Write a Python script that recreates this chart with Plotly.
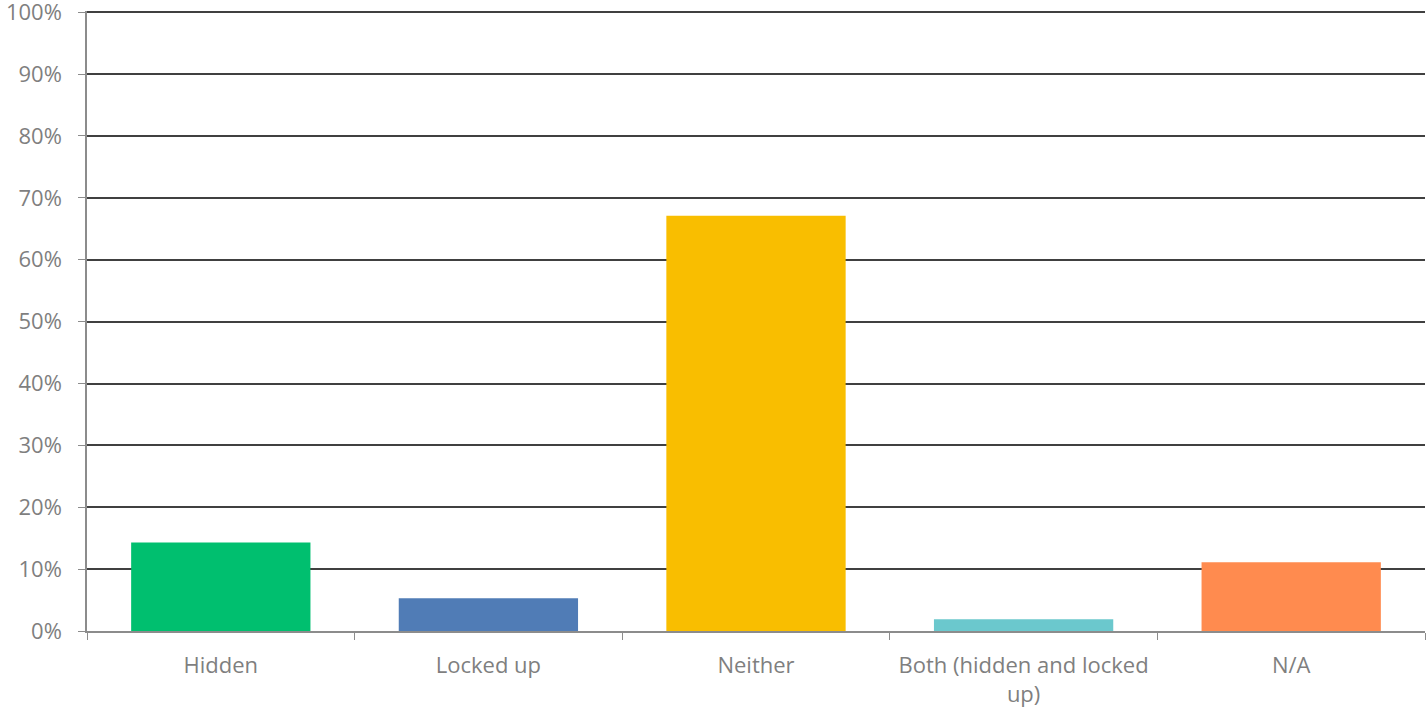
import plotly.graph_objects as go

categories = ["Hidden", "Locked up", "Neither", "Both (hidden and locked<br>up)", "N/A"]
values = [0.143, 0.053, 0.671, 0.019, 0.111]
colors = ["#00BF6F", "#507CB6", "#F9BE00", "#6BC8CD", "#FF8B4F"]

fig = go.Figure(go.Bar(x=categories, y=values, marker_color=colors, marker_line_width=0, width=0.67))

fig.update_layout(
    width=1427, height=713,
    margin=dict(l=87, r=2, t=11, b=82),
    plot_bgcolor="white", paper_bgcolor="white",
    font=dict(family="Open Sans", size=22, color="#7f7f7f"),
    showlegend=False, bargap=0.33,
)
fig.update_yaxes(
    range=[0, 1.002], tickformat=".0%", dtick=0.1, tick0=0,
    showgrid=True, gridcolor="#404040", gridwidth=1.5,
    showline=True, linecolor="#8c8c8c", linewidth=1.5,
    ticks="outside", ticklen=7, tickcolor="#8c8c8c", zeroline=False,
    automargin=False, ticklabelstandoff=12, ticklabeloverflow="allow",
)
fig.update_xaxes(
    showline=True, linecolor="#8c8c8c", linewidth=1.5,
    ticks="outside", ticklen=7, tickcolor="#8c8c8c", tickson="boundaries",
    automargin=False, ticklabelstandoff=14, ticklabeloverflow="allow",
)
fig.write_html("out.html", config={"displayModeBar": False},
               post_script="document.body.style.margin='0';")
